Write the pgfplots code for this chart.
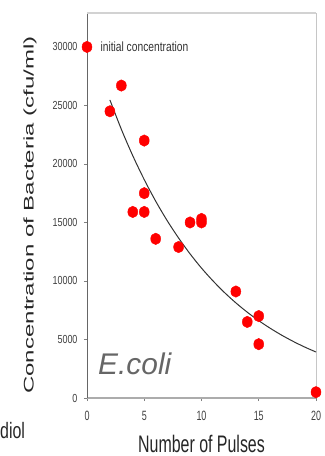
\documentclass[border=0pt]{standalone}
\usepackage{pgfplots}
\pgfplotsset{compat=1.18}
\usepackage{fontspec}
\setmainfont{Liberation Sans}
\begin{document}
\begin{tikzpicture}
\begin{axis}[
  at={(0,0)}, anchor=south west,
  scale only axis, width=229bp, height=385bp,
  xmin=0, xmax=20, ymin=0, ymax=32900,
  axis x line*=bottom, axis y line*=left,
  x axis line style={draw=gray!65, line width=1.6pt, -},
  y axis line style={draw=gray!80!black, line width=0.8pt, -},
  xtick={0,5,10,15,20}, ytick={0,5000,10000,15000,20000,25000,30000},
  scaled y ticks=false, scaled x ticks=false,
  tick align=outside, major tick length=3bp,
  tick style={draw=gray, line width=0.6pt},
  /pgf/number format/assume math mode=true,
  /pgf/number format/1000 sep={},
  xticklabel={\scalebox{1}[1.5]{\fontsize{9}{9}\selectfont\color{black!75}\pgfmathprintnumber{\tick}}},
  yticklabel={\scalebox{1}[1.3]{\fontsize{9}{9}\selectfont\color{black!75}\pgfmathprintnumber{\tick}}},
  xticklabel style={yshift=-7bp},
  yticklabel style={xshift=-3bp},
  clip=false,
]
\draw[gray!35, line width=1.8pt] (rel axis cs:0,1) -- (rel axis cs:1,1);
\draw[gray!45, line width=1pt] (rel axis cs:1,0) -- (rel axis cs:1,1);
\addplot[black!80, line width=1pt, smooth] coordinates {
(2,25470) (3,22960) (4,20700) (5,18660) (6,16820) (7,15160) (8,13670) (9,12320)
(10,11100) (11,10010) (12,9020) (13,8130) (14,7330) (15,6610) (16,5960) (17,5370)
(18,4840) (19,4360) (20,3930)};
\addplot[only marks, mark=*, mark size=5bp, color=red, mark options={yscale=1.15, draw=red, fill=red}] coordinates {
(0,30000) (2,24500) (3,26700) (5,22000) (5,17500) (4,15900) (5,15900) (6,13600)
(8,12900) (9,15000) (10,15300) (10,15000) (13,9100) (14,6500) (15,7000) (15,4600) (20,500)};
\end{axis}
\node[anchor=west] at (10bp,351bp) {\scalebox{1}[1.3]{\fontsize{10.3}{10.3}\selectfont\color{black!80}initial concentration}};
\node[anchor=base west, inner sep=0pt] at (11bp,24bp) {\fontsize{30}{30}\selectfont\itshape\color{black!60}E.coli};
\node[anchor=base, inner sep=0pt] at (114.5bp,-54bp) {\scalebox{1}[1.5]{\fontsize{16}{16}\selectfont\color{black!85}Number of Pulses}};
\node[rotate=90, inner sep=0pt] at (-57bp,183bp) {\scalebox{1.72}[1]{\fontsize{14}{14}\selectfont\color{black!85}Concentration of Bacteria (cfu/ml)}};
\node[anchor=base west, inner sep=0pt] at (-87bp,-40bp) {\scalebox{1}[1.4]{\fontsize{16}{16}\selectfont\color{black!85}diol}};
\path[use as bounding box] (-87bp,-58bp) rectangle (237bp,398bp);
\end{tikzpicture}
\end{document}
